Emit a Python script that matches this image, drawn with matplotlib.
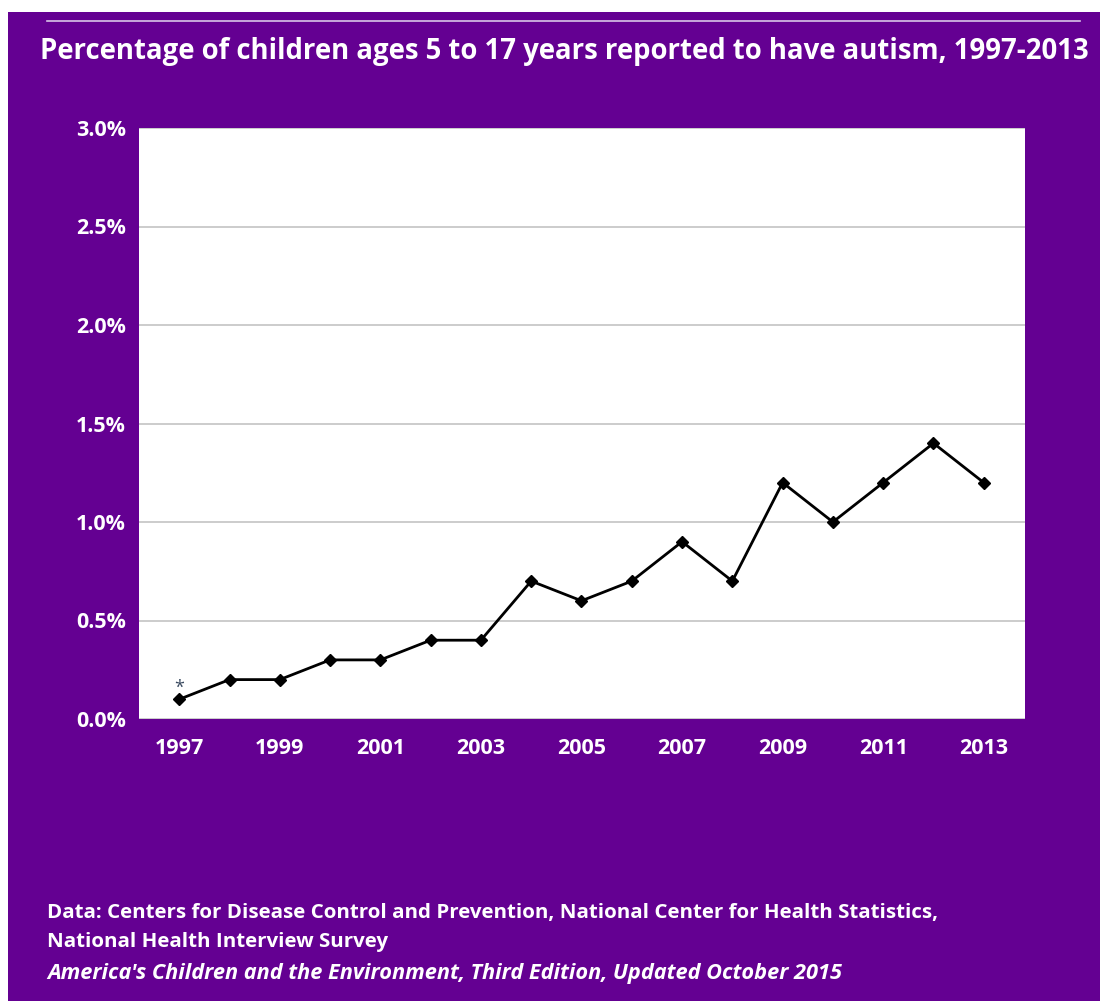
import matplotlib.pyplot as plt
from matplotlib.patches import Rectangle
from matplotlib.lines import Line2D
from matplotlib.ticker import FuncFormatter

years = [1997, 1998, 1999, 2000, 2001, 2002, 2003, 2004, 2005,
         2006, 2007, 2008, 2009, 2010, 2011, 2012, 2013]
pct = [0.1, 0.2, 0.2, 0.3, 0.3, 0.4, 0.4, 0.7, 0.6,
       0.7, 0.9, 0.7, 1.2, 1.0, 1.2, 1.4, 1.2]
x_labels = [1997, 1999, 2001, 2003, 2005, 2007, 2009, 2011, 2013]
y_ticks = [0.0, 0.5, 1.0, 1.5, 2.0, 2.5, 3.0]

title = 'Percentage of children ages 5 to 17 years reported to have autism, 1997-2013'
source_lines = ['Data: Centers for Disease Control and Prevention, National Center for Health Statistics,',
                'National Health Interview Survey']
credit = "America's Children and the Environment, Third Edition, Updated October 2015"

PURPLE = '#640092'
W, H = 1100, 1001
plt.rcParams['font.family'] = ['Open Sans', 'DejaVu Sans']

fig = plt.figure(figsize=(W / 100, H / 100), dpi=100)
fig.patch.set_facecolor('white')
renderer = fig.canvas.get_renderer()


def fit_width(txt, width_px):
    # shrink or grow a text until it spans the wanted pixel width
    w = txt.get_window_extent(renderer).width
    txt.set_fontsize(txt.get_fontsize() * width_px / w)


# purple panel behind everything
fig.add_artist(Rectangle((8 / W, 0), 1 - 8 / W, 1 - 12 / H,
                         transform=fig.transFigure, facecolor=PURPLE,
                         edgecolor='none', zorder=0))
fig.add_artist(Line2D([47 / W, 1080 / W], [1 - 21 / H, 1 - 21 / H],
                      transform=fig.transFigure, color='#d8c4e8', lw=1.2))

t = fig.text(564 / W, 1 - 51 / H, title, color='white', fontsize=19,
             fontweight='bold', ha='center', va='center')
fit_width(t, 1046)

ax = fig.add_axes([139 / W, 1 - 719 / H, (1025 - 139) / W, (719 - 128) / H])
ax.set_facecolor('white')
ax.plot(years, pct, color='black', lw=2, marker='D', markersize=6.5, zorder=3)
ax.text(years[0], pct[0] + 0.035, '*', ha='center', va='baseline',
        fontsize=13, color='#3a4a60')

ax.set_xlim(1996.2, 2013.82)
ax.set_ylim(0, 3.0)
ax.set_yticks(y_ticks)
ax.set_xticks(x_labels)
ax.yaxis.set_major_formatter(FuncFormatter(lambda v, p: f'{v:.1f}%'))
ax.grid(axis='y', color='#c8c8c8', lw=1.3)
ax.set_axisbelow(True)
for s in ax.spines.values():
    s.set_visible(False)
ax.tick_params(length=0, colors='white', labelsize=15.5)
ax.tick_params(axis='x', pad=13.5)
ax.tick_params(axis='y', pad=9.5)
for lab in ax.get_xticklabels() + ax.get_yticklabels():
    lab.set_fontweight('bold')

s1 = fig.text(47 / W, 1 - 913 / H, source_lines[0], color='white', fontsize=12.5,
              fontweight='bold', ha='left', va='center')
fit_width(s1, 890)
s2 = fig.text(47 / W, 1 - 942 / H, source_lines[1], color='white',
              fontsize=s1.get_fontsize(), fontweight='bold', ha='left', va='center')
c = fig.text(47 / W, 1 - 973 / H, credit, color='white', fontsize=12.5,
             fontweight='bold', fontstyle='italic', ha='left', va='center')
fit_width(c, 795)

fig.savefig('out.png', dpi=100, facecolor=fig.get_facecolor())
